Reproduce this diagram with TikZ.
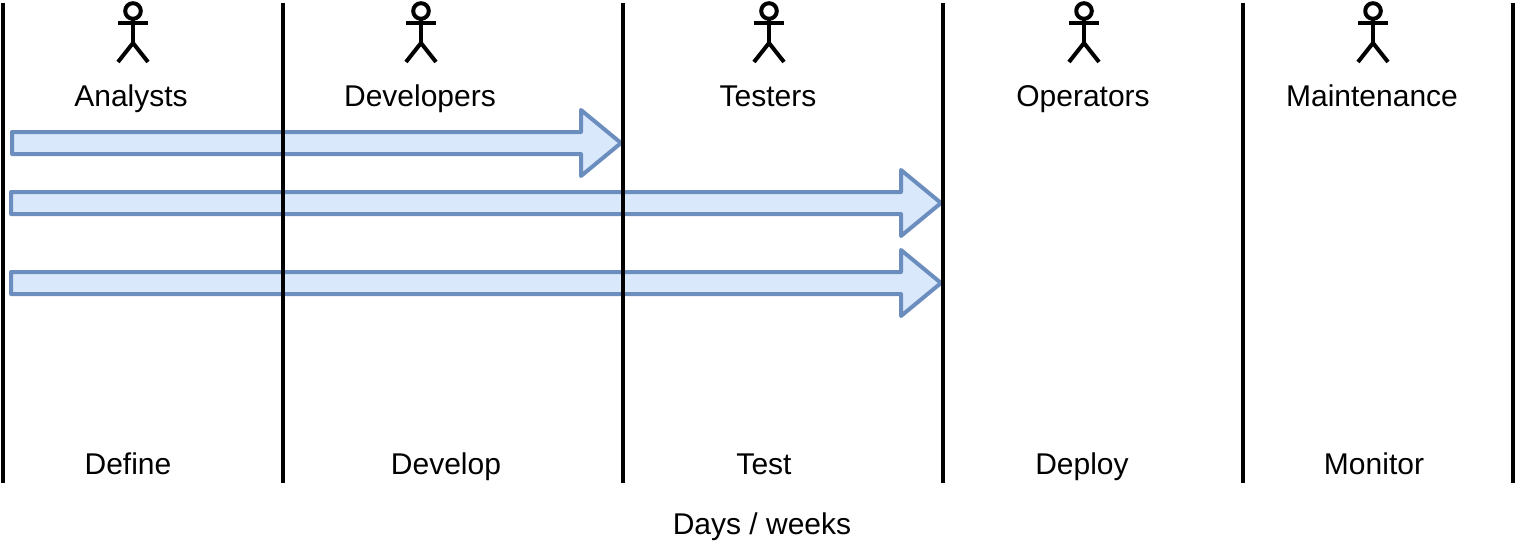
\documentclass[tikz,border=0pt]{standalone}
\usepackage{fontspec}
\setmainfont{Liberation Sans}
\begin{document}
\begin{tikzpicture}[x=1pt,y=-1pt,
  lane/.style={draw=black,line width=4pt},
  actorline/.style={draw=black,line width=4pt,line join=round},
  label/.style={font=\fontsize{30}{34}\selectfont,text=black,inner sep=0pt,anchor=base},
  blockarrow/.style={draw=arrowblue,fill=arrowfill,line width=4pt,line join=round},
  pics/actor/.style={code={
    \draw[actorline] (0,0) circle[radius=7.8];
    \draw[actorline] (0,7.8) -- (0,32) (-15,12) -- (15,12);
    \draw[actorline] (-15,51) -- (0,32) -- (15,51);
  }},
  pics/barrow/.style args={#1/#2}{code={
    \draw[blockarrow] (#1,-11) -- (#2-40,-11) -- (#2-40,-33) -- (#2,0) -- (#2-40,33) -- (#2-40,11) -- (#1,11) -- cycle;
  }}]
\definecolor{arrowblue}{HTML}{6C8EBF}
\definecolor{arrowfill}{HTML}{DAE8FC}
\useasboundingbox (0,0) rectangle (1524,544);
% arrows
\pic at (0,143) {barrow=12/621};
\pic at (0,203) {barrow=11/941};
\pic at (0,283) {barrow=11/941};
% lanes
\foreach \n/\x in {a/3,b/283,c/623,d/943,e/1243,f/1513}{
  \coordinate (t\n) at (\x,3);
  \coordinate (u\n) at (\x,483);
  \draw[lane] (t\n) -- (u\n);
}
% actors
\pic at (133,11) {actor};
\pic at (421,11) {actor};
\pic at (769,11) {actor};
\pic at (1084,11) {actor};
\pic at (1373,11) {actor};
% labels
\node[label] (l1) at (131,106) {Analysts};
\node[label] (l2) at (420,106) {Developers};
\node[label] (l3) at (768,106) {Testers};
\node[label] (l4) at (1083,106) {Operators};
\node[label] (l5) at (1372,106) {Maintenance};
\node[label] (s1) at (128,474) {Define};
\node[label] (s2) at (446,474) {Develop};
\node[label] (s3) at (764,474) {Test};
\node[label] (s4) at (1082,474) {Deploy};
\node[label] (s5) at (1374,474) {Monitor};
\node[label] (t) at (762,534) {Days / weeks};
\end{tikzpicture}
\end{document}
